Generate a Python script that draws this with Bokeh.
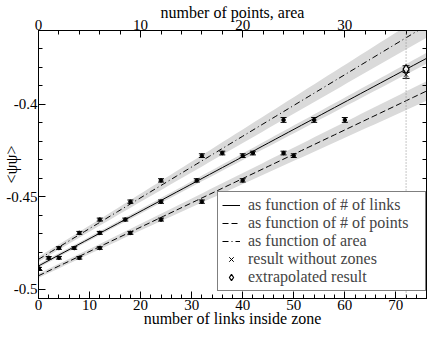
import numpy as np
from bokeh.plotting import figure
from bokeh.models import (Range1d, LinearAxis, SingleIntervalTicker, Legend, LegendItem,
                          Span, CustomJSTickFormatter)
from bokeh.embed import file_html
from bokeh.resources import INLINE

# ---- data ----
# zones (first entry = zone of size zero)
zone_area = [0, 1, 2, 4, 6, 9, 12, 16, 18, 24]
zone_links = [0, 4, 7, 12, 17, 24, 31, 40, 42, 54]
zone_points = [0, 4, 6, 9, 12, 16, 20, 25, 24, 30]
zone_psi = [-0.4888, -0.4830, -0.4777, -0.4695, -0.4623, -0.4526, -0.4411, -0.4277, -0.4263, -0.4084]
zone_err = [0.0006, 0.0007, 0.0007, 0.0008, 0.0008, 0.0009, 0.0009, 0.0010, 0.0010, 0.0013]

# linear fits: intercept, slope, intercept error, slope error
fit_links = [-0.4874, 0.001478, 0.0010, 0.000037]
fit_points = [-0.4927, 0.00263, 0.0012, 0.000136]
fit_area = [-0.4838, 0.00333, 0.0014, 0.000170]

full_links = 72
result_nozones = [-0.3839, 0.0020]   # value, error
result_extrap = [-0.3809, 0.0018]

x_bottom = [0, 76]
x_top = [0, 38]
y_lim = [-0.505, -0.36]

FONT = "Liberation Serif"

p = figure(width=428, height=329, output_backend="svg", toolbar_location=None,
           x_range=Range1d(*x_bottom), y_range=Range1d(*y_lim),
           min_border_left=33, min_border_right=2, min_border_top=30, min_border_bottom=31)
p.extra_x_ranges = {"top": Range1d(*x_top)}
p.xgrid.visible = False
p.ygrid.visible = False
p.outline_line_color = "black"
p.background_fill_color = "white"


def style_axis(ax):
    ax.axis_line_color = "black"
    ax.major_tick_line_color = "black"
    ax.minor_tick_line_color = "black"
    ax.major_tick_in = 7
    ax.major_tick_out = 0
    ax.minor_tick_in = 4
    ax.minor_tick_out = 0
    ax.major_label_standoff = 1
    ax.major_label_text_font = FONT
    ax.major_label_text_font_size = "15px"
    ax.major_label_text_color = "black"
    ax.axis_label_text_font = FONT
    ax.axis_label_text_font_size = "16px"
    ax.axis_label_text_font_style = "normal"
    ax.axis_label_text_color = "black"


xb = p.xaxis[0]
xb.ticker = SingleIntervalTicker(interval=10, num_minor_ticks=5)
style_axis(xb)
xb.axis_label = "number of links inside zone"
xb.axis_label_standoff = -3

yl = p.yaxis[0]
yl.ticker = SingleIntervalTicker(interval=0.05, num_minor_ticks=5)
yl.formatter = CustomJSTickFormatter(code="return tick.toFixed(2).replace(/0$/, '')")
style_axis(yl)
yl.axis_label = "<ψψ>"
yl.axis_label_standoff = -17

xt = LinearAxis(x_range_name="top", ticker=SingleIntervalTicker(interval=10, num_minor_ticks=5))
style_axis(xt)
xt.axis_label = "number of points, area"
xt.axis_label_standoff = -4
p.add_layout(xt, "above")

yr = LinearAxis(ticker=SingleIntervalTicker(interval=0.05, num_minor_ticks=5))
style_axis(yr)
yr.formatter = CustomJSTickFormatter(code="return ''")
yr.major_label_standoff = 0
p.add_layout(yr, "right")

BAND = "#dadada"


def fit_curve(fit, xmax):
    a, b, da, db = fit
    xs = np.linspace(0, xmax, 60)
    ys = a + b * xs
    hw = np.sqrt(da ** 2 + (db * xs) ** 2)
    return xs, ys, hw


# bands
for fit, xmax, rn in [(fit_area, x_top[1], "top"), (fit_links, x_bottom[1], "default"),
                      (fit_points, x_top[1], "top")]:
    xs, ys, hw = fit_curve(fit, xmax)
    p.varea(x=xs, y1=ys - hw, y2=ys + hw, fill_color=BAND, x_range_name=rn)

p.add_layout(Span(location=full_links, dimension="height", line_color="#8c8c8c",
                  line_dash="1 2", line_width=1))

xs, ys, _ = fit_curve(fit_links, x_bottom[1])
r_links = p.line(xs, ys, line_color="black", line_width=1)
xs, ys, _ = fit_curve(fit_points, x_top[1])
r_points = p.line(xs, ys, line_color="black", line_width=1, line_dash="6 3", x_range_name="top")
xs, ys, _ = fit_curve(fit_area, x_top[1])
r_area = p.line(xs, ys, line_color="black", line_width=1, line_dash="6 3 1 3", x_range_name="top")

psi = np.array(zone_psi)
err = np.array(zone_err)
for xv, rn in [(zone_links, "default"), (zone_points, "top"), (zone_area, "top")]:
    p.segment(x0=xv, y0=psi - err, x1=xv, y1=psi + err, line_color="black", line_width=1,
              x_range_name=rn)
    p.scatter(x=xv, y=psi - err, marker="dash", size=6, line_color="black", line_width=1,
              x_range_name=rn)
    p.scatter(x=xv, y=psi + err, marker="dash", size=6, line_color="black", line_width=1,
              x_range_name=rn)
    p.scatter(x=xv, y=psi, marker="circle", size=3.5, fill_color="black", line_color="black",
              x_range_name=rn)

# results at the full lattice
for res in (result_nozones, result_extrap):
    v, e = res
    p.segment(x0=[full_links], y0=[v - e], x1=[full_links], y1=[v + e], line_color="black")
    p.scatter(x=[full_links, full_links], y=[v - e, v + e], marker="dash", size=7,
              line_color="black")
r_x = p.scatter(x=[full_links], y=[result_nozones[0]], marker="x", size=6,
                line_color="black", line_width=1)
r_d = p.scatter(x=[full_links], y=[result_extrap[0]], marker="diamond", size=9,
                fill_color="white", line_color="black", line_width=1.2)

legend = Legend(items=[
    LegendItem(label="as function of # of links", renderers=[r_links]),
    LegendItem(label="as function of # of points", renderers=[r_points]),
    LegendItem(label="as function of area", renderers=[r_area]),
    LegendItem(label="result without zones", renderers=[r_x]),
    LegendItem(label="extrapolated result", renderers=[r_d]),
], location=(179, 7))
legend.label_text_font = FONT
legend.label_text_font_size = "16px"
legend.glyph_width = 18
legend.glyph_height = 16
legend.label_height = 16
legend.label_width = 173
legend.spacing = 0
legend.padding = 4
legend.margin = 0
legend.label_standoff = 8
legend.border_line_color = "black"
legend.border_line_width = 1
legend.background_fill_alpha = 1
p.add_layout(legend)

open("out.html", "w").write(file_html(p, INLINE))
